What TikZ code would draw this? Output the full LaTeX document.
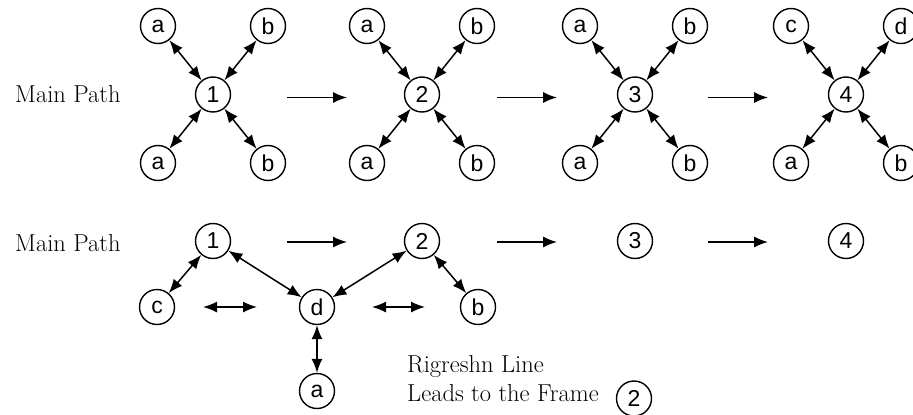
\documentclass[tikz,border=0pt]{standalone}
\usepackage{fontspec}
\newfontfamily\hvfont{Liberation Sans}
\usetikzlibrary{arrows.meta}
\begin{document}
\begin{tikzpicture}[x=1pt,y=-1pt,
  circ/.style={circle,draw,line width=1.4pt,minimum size=35pt,inner sep=0pt,font=\hvfont\fontsize{23}{23}\selectfont},
  lbl/.style={anchor=base west,inner sep=0pt,font=\fontsize{24.5}{29}\selectfont},
  dbl/.style={line width=1.5pt,{Latex[length=14pt,width=11pt]}-{Latex[length=14pt,width=11pt]}},
  fwd/.style={line width=1.5pt,-{Latex[length=14pt,width=11pt]}}]
\useasboundingbox (0,0) rectangle (913,415);
% labels
\node[lbl] (mp1) at (15,102.3) {Main Path};
\node[lbl] (mp2) at (15,251.5) {Main Path};
% top row groups
\foreach \n/\cx/\tl/\tr/\bl/\br in {1/213/a/b/a/b, 2/422/a/b/a/b, 3/635/a/b/a/b, 4/846/c/d/a/b} {
  \node[circ] (t\n) at (\cx,94.5) {\n};
  \node[circ] (t\n tl) at (\cx-55,26) {\tl};
  \node[circ] (t\n tr) at (\cx+55,26) {\tr};
  \node[circ] (t\n bl) at (\cx-55,163) {\bl};
  \node[circ] (t\n br) at (\cx+55,163) {\br};
  \draw[dbl] (t\n tl) -- (t\n);
  \draw[dbl] (t\n tr) -- (t\n);
  \draw[dbl] (t\n bl) -- (t\n);
  \draw[dbl] (t\n br) -- (t\n);
}
% top horizontal arrows
\foreach \i/\xs in {1/287, 2/497, 3/708} {
  \coordinate (ts\i) at (\xs,97.5);
  \coordinate (te\i) at (\xs+60,97.5);
  \draw[fwd] (ts\i) -- (te\i);
}
% bottom row
\node[circ] (b1) at (213,241) {1};
\node[circ] (b2) at (422,241) {2};
\node[circ] (b3) at (635,241) {3};
\node[circ] (b4) at (846,241) {4};
\node[circ] (bc) at (157,307) {c};
\node[circ] (bd) at (317,307) {d};
\node[circ] (bb) at (478,307) {b};
\node[circ] (ba) at (317,391) {a};
\draw[dbl] (b1) -- (bc);
\draw[dbl] (b1) -- (bd);
\draw[dbl] (b2) -- (bd);
\draw[dbl] (b2) -- (bb);
\draw[dbl] (bd) -- (ba);
\foreach \i/\xs in {1/287, 2/497, 3/708} {
  \coordinate (bs\i) at (\xs,242);
  \coordinate (be\i) at (\xs+60,242);
  \draw[fwd] (bs\i) -- (be\i);
}
\coordinate (h1s) at (203,307);
\coordinate (h1e) at (257,307);
\coordinate (h2s) at (372,307);
\coordinate (h2e) at (425,307);
\draw[dbl] (h1s) -- (h1e);
\draw[dbl] (h2s) -- (h2e);
% note
\node[lbl] (rl) at (407,372.7) {Rigreshn Line};
\node[lbl] (lf) at (407,401.7) {Leads to the Frame};
\node[circ] (f2) at (634,398.5) {2};
\end{tikzpicture}
\end{document}
